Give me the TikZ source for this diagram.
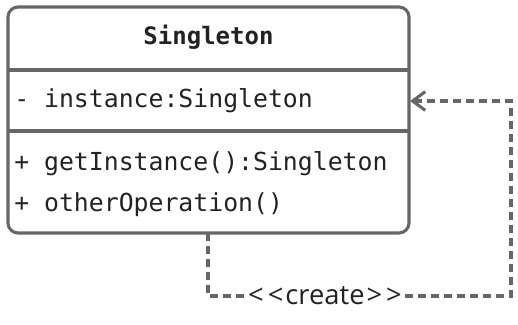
\documentclass[tikz,border=0pt]{standalone}
\usepackage{fontspec}
\setmonofont{DejaVu Sans Mono}
\newfontfamily\labelfont{Open Sans}
\usetikzlibrary{arrows.meta}
\definecolor{umlline}{HTML}{666666}
\definecolor{umltext}{HTML}{222222}
\begin{document}
\begin{tikzpicture}[x=0.75pt,y=-0.75pt,
  classframe/.style={draw=umlline, line width=2.3pt, rounded corners=7.5pt},
  sepline/.style={draw=umlline, line width=2.3pt},
  member/.style={anchor=base west, inner sep=0pt, text=umltext,
    font=\ttfamily\fontsize{18.6}{22}\selectfont},
  classtitle/.style={anchor=base, inner sep=0pt, text=umltext,
    font=\ttfamily\bfseries\fontsize{18}{22}\selectfont},
  depend/.style={draw=umlline, line width=2.3pt, dash pattern=on 6pt off 3.75pt,
    -{Straight Barb[length=9.5pt,width=14pt,line width=2.3pt]}},
  stereo/.style={fill=white, inner sep=1pt, text=umltext,
    font=\labelfont\fontsize{20.5}{24}\selectfont}]
  \useasboundingbox (0,0) rectangle (518,325);
  % class box with its compartments
  \draw[classframe] (8,7) rectangle (409,233);
  \draw[sepline] (8,70) -- (409,70);
  \draw[sepline] (8,131) -- (409,131);
  \node[classtitle] (title) at (208.5,44) {Singleton};
  \node[member] (attr) at (14,107) {- instance:Singleton};
  \node[member] (op1) at (14,170) {+ getInstance():Singleton};
  \node[member] (op2) at (14,211) {+ otherOperation()};
  % self dependency
  \coordinate (src) at (208,233);
  \coordinate (c1) at (208,296);
  \coordinate (c2) at (511,296);
  \coordinate (c3) at (511,101);
  \coordinate (dst) at (410,101);
  \draw[depend] (src) -- (c1) -- (c2) -- (c3) -- (dst);
  \node[stereo] (create) at (325,296)
    {<\kern3pt<\kern1.5pt create\kern1.5pt>\kern3pt>};
\end{tikzpicture}
\end{document}
